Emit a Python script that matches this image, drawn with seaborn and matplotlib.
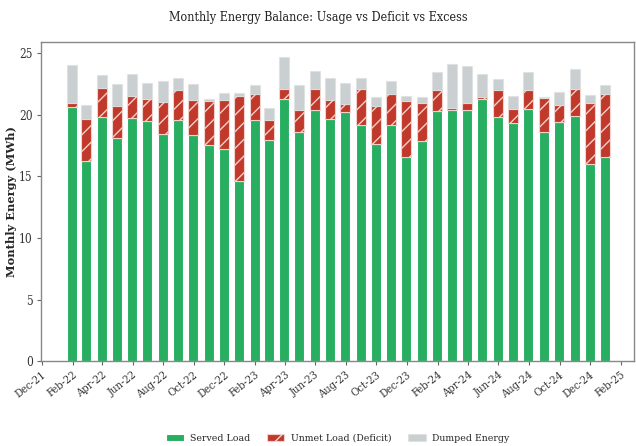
import numpy as np
import pandas as pd
import seaborn as sns
import matplotlib.pyplot as plt
import matplotlib.dates as mdates

# month-end dates, Jan-22 .. Dec-24
months = pd.date_range('2022-01-31', '2024-12-31', freq='ME')

served = [20.62, 16.22, 19.81, 18.11, 19.71, 19.49, 18.41, 19.57, 18.39, 17.52, 17.22, 14.62,
          19.55, 17.95, 21.27, 18.60, 20.38, 19.63, 20.22, 19.20, 17.60, 19.20, 16.60, 17.84,
          20.28, 20.41, 20.36, 21.25, 19.79, 19.30, 20.44, 18.63, 19.44, 19.89, 16.03, 16.57]
unmet = [0.36, 3.41, 2.33, 2.57, 1.84, 1.81, 2.65, 2.43, 2.83, 3.62, 4.00, 6.87,
         2.16, 1.62, 0.84, 1.81, 1.68, 1.56, 0.68, 2.91, 3.14, 2.51, 4.54, 3.14,
         1.70, 0.13, 0.62, 0.19, 2.25, 1.16, 1.56, 2.76, 1.38, 2.17, 4.89, 5.11]
dumped = [3.08, 1.19, 1.08, 1.79, 1.73, 1.25, 1.70, 0.98, 1.25, 0.13, 0.54, 0.30,
          0.73, 1.01, 2.57, 2.00, 1.48, 1.76, 1.65, 0.87, 0.73, 1.05, 0.38, 0.46,
          1.46, 3.60, 2.95, 1.84, 0.83, 1.09, 1.44, 0.08, 1.02, 1.62, 0.65, 0.76]

df = pd.DataFrame({'month': months, 'served': served, 'unmet': unmet, 'dumped': dumped})

sns.set_theme(style='ticks')
plt.rcParams['font.family'] = ['DejaVu Serif']
plt.rcParams['font.stretch'] = 'condensed'

fig = plt.figure(figsize=(6.36, 4.46), dpi=100)
ax = fig.add_axes([0.0645, 0.19, 0.9325, 0.716])

w = 20
ax.bar(df['month'], df['served'], width=w, color='#27ae60', edgecolor='white',
       linewidth=0.8, label='Served Load')
ax.bar(df['month'], df['unmet'], width=w, bottom=df['served'], color='#c0392b',
       edgecolor='#f2d0cc', linewidth=0.8, hatch='//', label='Unmet Load (Deficit)')
ax.bar(df['month'], df['dumped'], width=w, bottom=df['served'] + df['unmet'],
       color='#bdc3c7', alpha=0.8, edgecolor='#e0e0e0', linewidth=0.8, label='Dumped Energy')

ax.set_xlim(pd.Timestamp('2021-11-30'), pd.Timestamp('2025-02-27'))
ax.set_ylim(0, 25.9)
ax.xaxis.set_major_locator(mdates.MonthLocator(bymonth=[2, 4, 6, 8, 10, 12]))
ax.xaxis.set_major_formatter(mdates.DateFormatter('%b-%y'))
plt.setp(ax.get_xticklabels(), rotation=38, ha='right', rotation_mode='anchor',
         fontsize=8, color='#333333')
plt.setp(ax.get_yticklabels(), fontsize=8.5, color='#333333')
ax.tick_params(length=3, width=0.8, color='#666666', pad=3)

for s in ax.spines.values():
    s.set_color('#888888')
    s.set_linewidth(1)

ax.set_ylabel('Monthly Energy (MWh)', fontsize=8.2, fontweight='bold',
              fontstretch='normal')
ax.yaxis.set_label_coords(-0.04, 0.5)
fig.suptitle('Monthly Energy Balance: Usage vs Deficit vs Excess', fontsize=9,
             y=0.975, color='#222222')

ax.legend(loc='lower center', bbox_to_anchor=(0.5, -0.285), ncol=3, frameon=False,
          fontsize=7.5, handlelength=1.7, handleheight=0.6, columnspacing=1.6,
          handletextpad=0.6)

fig.savefig('out.png', dpi=100)
